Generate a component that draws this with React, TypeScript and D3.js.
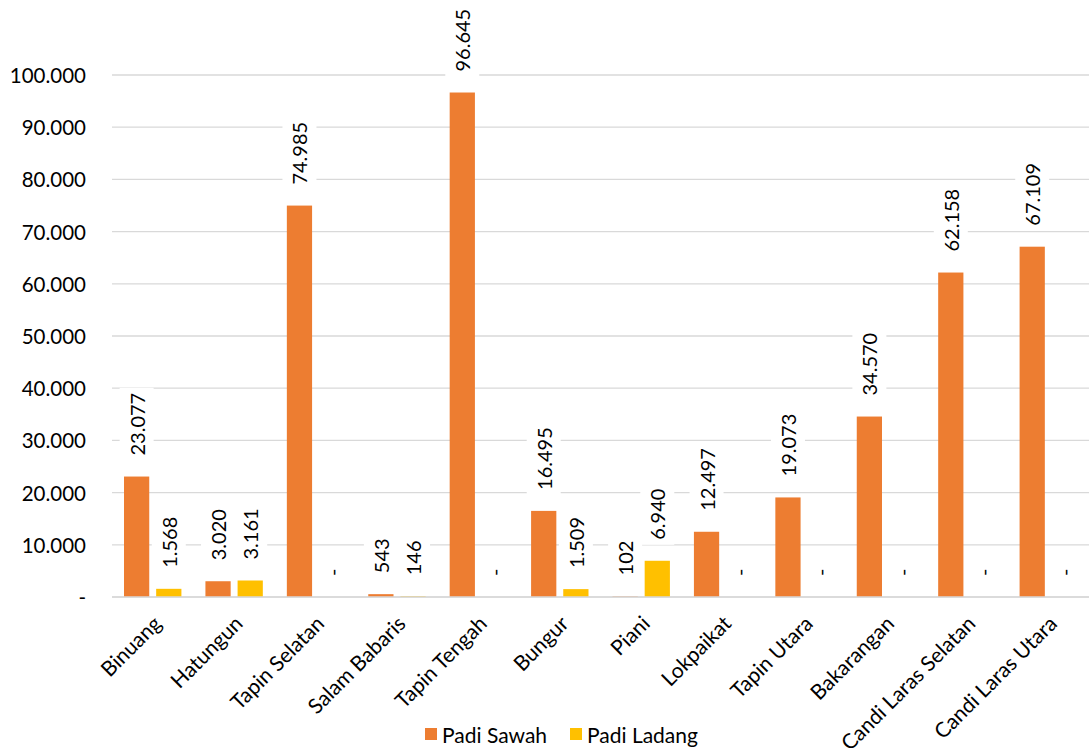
import React, { useEffect, useRef } from "react";
import * as d3 from "d3";

const categories = [
  "Binuang", "Hatungun", "Tapin Selatan", "Salam Babaris", "Tapin Tengah", "Bungur",
  "Piani", "Lokpaikat", "Tapin Utara", "Bakarangan", "Candi Laras Selatan", "Candi Laras Utara",
];
const padiSawah = [23077, 3020, 74985, 543, 96645, 16495, 102, 12497, 19073, 34570, 62158, 67109];
const padiLadang = [1568, 3161, 0, 146, 0, 1509, 6940, 0, 0, 0, 0, 0];
const seriesNames = ["Padi Sawah", "Padi Ladang"];
const seriesColors = ["#ED7D31", "#FFC000"];
const yTicks = [0, 10000, 20000, 30000, 40000, 50000, 60000, 70000, 80000, 90000, 100000];

const W = 1089, H = 748;
const M = { left: 112, right: 0, top: 75, bottom: 151 };
const FONT = "Lato, 'Open Sans', sans-serif";

export default function App() {
  const ref = useRef<SVGSVGElement>(null);
  useEffect(() => {
    const svg = d3.select(ref.current);
    svg.selectAll("*").remove();
    const loc = d3.formatLocale({ decimal: ",", thousands: ".", grouping: [3], currency: ["", ""] });
    const fmtN = loc.format(",d");
    const fmt = (v: number) => (v === 0 ? "-" : fmtN(v));

    const x = d3.scaleBand().domain(categories).range([M.left, W - M.right]).paddingInner(0).paddingOuter(0);
    const y = d3.scaleLinear().domain([0, 100000]).range([H - M.bottom, M.top]);
    const bw = x.bandwidth();
    const barW = bw * 0.31;
    const gap = bw * 0.085;
    const groupW = 2 * barW + gap;

    const g = svg.append("g");
    g.selectAll("line.grid").data(yTicks).join("line")
      .attr("x1", M.left).attr("x2", W - M.right)
      .attr("y1", (d) => y(d)).attr("y2", (d) => y(d))
      .attr("stroke", "#d9d9d9").attr("stroke-width", 1.3);

    g.selectAll("text.ytick").data(yTicks).join("text")
      .attr("x", 86).attr("y", (d) => y(d)).attr("text-anchor", "end")
      .attr("dominant-baseline", "central")
      .attr("font-family", FONT).attr("font-size", 20.5).attr("fill", "#000")
      .text((d) => fmt(d));

    const series = [padiSawah, padiLadang];
    const bx = (i: number, si: number) => (x(categories[i]) as number) + bw / 2 - groupW / 2 + si * (barW + gap);
    series.forEach((vals, si) => {
      g.append("g").selectAll("rect").data(vals).join("rect")
        .attr("x", (_, i) => bx(i, si)).attr("width", barW)
        .attr("y", (d) => y(d)).attr("height", (d) => y(0) - y(d))
        .attr("fill", seriesColors[si]);
    });

    series.forEach((vals, si) => {
      vals.forEach((v, i) => {
        const cx = bx(i, si) + barW / 2;
        const base = y(v) - 21;
        const lg = g.append("g").attr("transform", `translate(${cx},${base}) rotate(-90)`);
        const rect = lg.append("rect").attr("fill", "#fff");
        const t = lg.append("text").attr("x", 0).attr("y", 0)
          .attr("dominant-baseline", "central")
          .attr("font-family", FONT).attr("font-size", 20).attr("fill", "#000")
          .text(fmt(v));
        const len = (t.node() as SVGTextElement).getComputedTextLength();
        rect.attr("x", -5).attr("y", -17).attr("width", len + 10).attr("height", 34);
      });
    });

    g.append("line").attr("x1", M.left).attr("x2", W - M.right).attr("y1", y(0)).attr("y2", y(0))
      .attr("stroke", "#d9d9d9").attr("stroke-width", 1.3);

    g.selectAll("text.cat").data(categories).join("text")
      .attr("transform", (d) => `translate(${(x(d) as number) + bw / 2 + 4},${y(0) + 22}) rotate(-45)`)
      .attr("text-anchor", "end").attr("dominant-baseline", "central")
      .attr("font-family", FONT).attr("font-size", 21).attr("fill", "#000")
      .text((d) => d);

    const leg = g.append("g").attr("transform", `translate(0,${734})`);
    const items = [{ x: 425, name: seriesNames[0], c: seriesColors[0] }, { x: 570, name: seriesNames[1], c: seriesColors[1] }];
    items.forEach((it) => {
      leg.append("rect").attr("x", it.x).attr("y", -6).attr("width", 12).attr("height", 12).attr("fill", it.c);
      leg.append("text").attr("x", it.x + 17).attr("y", 0).attr("dominant-baseline", "central")
        .attr("font-family", FONT).attr("font-size", 21).attr("fill", "#000")
        .text(it.name);
    });
  }, []);
  return (
    <div style={{ position: "absolute", left: 0, top: 0 }}>
      <svg ref={ref} width={W} height={H} style={{ display: "block", background: "#fff" }} />
    </div>
  );
}
